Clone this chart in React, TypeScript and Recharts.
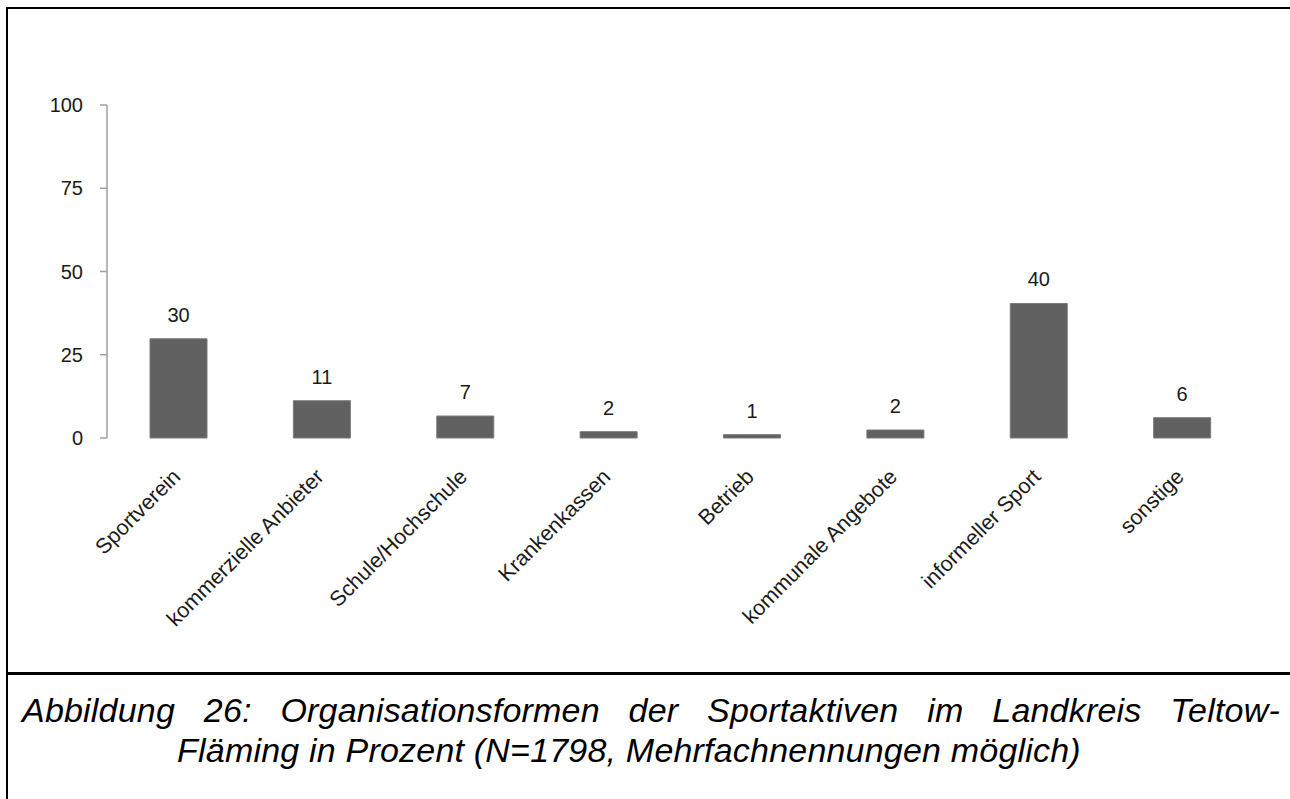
import { BarChart, Bar, XAxis, YAxis, LabelList } from 'recharts'

const categories = [
  'Sportverein',
  'kommerzielle Anbieter',
  'Schule/Hochschule',
  'Krankenkassen',
  'Betrieb',
  'kommunale Angebote',
  'informeller Sport',
  'sonstige',
]
const shares = [29.8, 11.2, 6.6, 1.9, 1.0, 2.4, 40.4, 6.1]
const yTicks = [0, 25, 50, 75, 100]
const boundaryTicks = [0, 1, 2, 3, 4, 5, 6, 7, 8]

const captionLine1 = 'Abbildung 26: Organisationsformen der Sportaktiven im Landkreis Teltow-'
const captionLine2 = 'Fläming in Prozent (N=1798, Mehrfachnennungen möglich)'

const data = categories.map((name, i) => ({ name, value: shares[i] }))

const FONT = '"Liberation Sans", Arial, sans-serif'
const AXIS_GREY = '#a0a0a0'

// rotated category label, text ends just right of the band centre
function SlantedTick(props: any) {
  const { x, y, payload } = props
  const ax = x + 3
  const ay = y + 40
  return (
    <text
      x={ax}
      y={ay}
      transform={`rotate(-45, ${ax}, ${ay})`}
      textAnchor="end"
      fontSize={21.5}
      fontFamily={FONT}
      fill="#1a1a1a"
    >
      {payload.value}
    </text>
  )
}

export default function App() {
  return (
    <div
      style={{
        position: 'absolute',
        left: 0,
        top: 0,
        width: 1290,
        height: 799,
        overflow: 'hidden',
        background: '#fff',
        fontFamily: FONT,
      }}
    >
      {/* frame lines */}
      <div style={{ position: 'absolute', left: 6, top: 7, width: 1290, height: 2, background: '#000' }} />
      <div style={{ position: 'absolute', left: 6, top: 7, width: 2, height: 800, background: '#000' }} />
      <div style={{ position: 'absolute', left: 6, top: 672, width: 1290, height: 3, background: '#000' }} />

      <div style={{ position: 'absolute', left: 0, top: 0 }}>
        <BarChart
          width={1290}
          height={672}
          data={data}
          margin={{ top: 105, right: 36, bottom: 0, left: 0 }}
          barCategoryGap="30%"
        >
          {/* number axis only used for the tick marks between categories */}
          <XAxis
            xAxisId="grid"
            type="number"
            domain={[0, 8]}
            ticks={boundaryTicks}
            allowDataOverflow
            height={0}
            tick={false}
            tickSize={7}
            tickLine={{ stroke: AXIS_GREY, strokeWidth: 1.5 }}
            axisLine={{ stroke: AXIS_GREY, strokeWidth: 1.5 }}
          />
          <XAxis
            xAxisId="cat"
            dataKey="name"
            height={234}
            interval={0}
            tickLine={false}
            axisLine={false}
            tickSize={0}
            tickMargin={0}
            tick={<SlantedTick />}
          />
          <YAxis
            width={107}
            domain={[0, 100]}
            ticks={yTicks}
            interval={0}
            tickSize={7}
            tickMargin={17}
            tickLine={{ stroke: AXIS_GREY, strokeWidth: 1.5 }}
            axisLine={{ stroke: AXIS_GREY, strokeWidth: 1.5 }}
            tick={{ fontSize: 20, fontFamily: FONT, fill: '#1a1a1a' }}
          />
          <Bar
            xAxisId="cat"
            dataKey="value"
            fill="#616161"
            stroke="#7a7a7a"
            strokeWidth={1}
            isAnimationActive={false}
          >
            <LabelList
              dataKey="value"
              position="top"
              offset={17}
              formatter={(v: any) => Math.round(Number(v))}
              style={{ fontSize: 20, fontFamily: FONT, fill: '#1a1a1a' }}
            />
          </Bar>
        </BarChart>
      </div>

      <div
        style={{
          position: 'absolute',
          left: 22,
          top: 690,
          width: 1258,
          fontSize: 34,
          lineHeight: '40px',
          fontStyle: 'italic',
          letterSpacing: 0.2,
          color: '#000',
        }}
      >
        <div style={{ textAlign: 'justify', textAlignLast: 'justify', whiteSpace: 'nowrap' as any }}>
          {captionLine1}
        </div>
        <div style={{ textAlign: 'center', width: 1214 }}>{captionLine2}</div>
      </div>
    </div>
  )
}
